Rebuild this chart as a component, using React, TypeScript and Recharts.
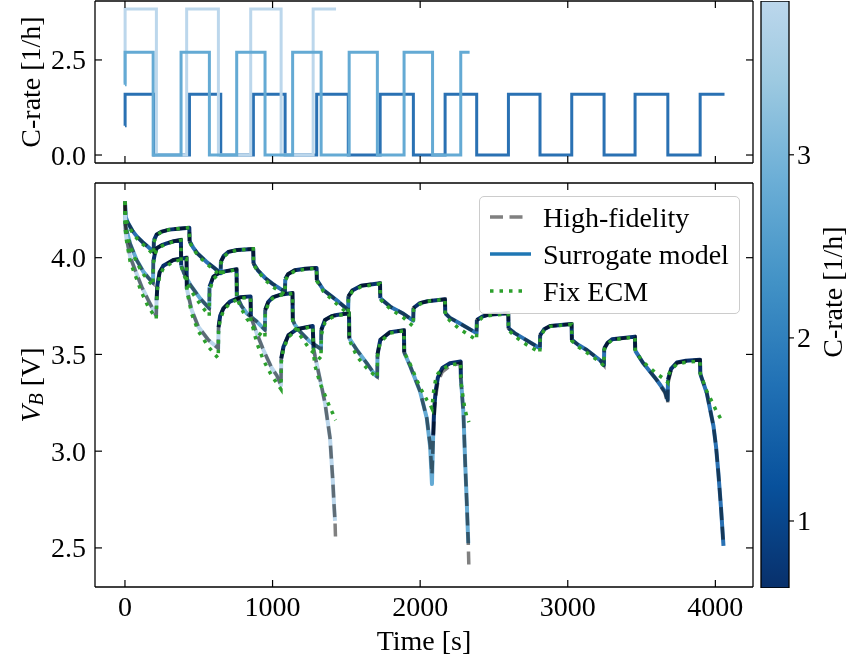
import React from 'react';
import { ComposedChart, Line, Bar, XAxis, YAxis, Legend } from 'recharts';

const FONT = '"Liberation Serif", "DejaVu Serif", serif';
const FS = 28;

const timeTicks = [0, 1000, 2000, 3000, 4000];
const rateTicks = [0, 2.5];
const voltTicks = [2.5, 3.0, 3.5, 4.0];
const cbarTicks = [1, 2, 3];
const legendLabels = ['High-fidelity', 'Surrogate model', 'Fix ECM'];

// C-rate schedules (top panel)
const darkRateT = [0, 1, 195, 437, 649, 870, 1085, 1299, 1513, 1729, 1954, 2169, 2383, 2598, 2812, 3027, 3246, 3456, 3678, 3897, 4062];
const darkRateC = [0.77, 1.6, 0, 1.6, 0, 1.6, 0, 1.6, 0, 1.6, 0, 1.6, 0, 1.6, 0, 1.6, 0, 1.6, 0, 1.6, 1.6];
const medRateT = [0, 1, 191, 380, 572, 757, 949, 1136, 1329, 1519, 1710, 1891, 2084, 2275, 2335];
const medRateC = [1.85, 2.7, 0, 2.7, 0, 2.7, 0, 2.7, 0, 2.7, 0, 2.7, 0, 2.7, 2.7];
const lightRateT = [0, 1, 213, 418, 633, 852, 1058, 1275, 1430];
const lightRateC = [1.9, 3.84, 0, 3.84, 0, 3.84, 0, 3.84, 3.84];

// colorbar range
const cbarRange = [0.634, 3.84];

// Voltage, 1.6C profile
const darkT = [0, 5, 20, 50, 80, 120, 150, 194, 196, 215, 250, 300, 360, 436, 438, 460, 490, 550, 600, 648, 650, 670, 700, 760, 869, 871, 900, 950, 1000, 1050, 1084, 1086, 1105, 1150, 1220, 1298, 1300, 1345, 1400, 1450, 1512, 1514, 1540, 1600, 1728, 1730, 1797, 1887, 1953, 1955, 1998, 2050, 2168, 2170, 2200, 2270, 2382, 2384, 2420, 2460, 2597, 2599, 2640, 2700, 2811, 2813, 2840, 2881, 3026, 3028, 3070, 3129, 3219, 3245, 3247, 3270, 3300, 3455, 3457, 3512, 3603, 3659, 3677, 3679, 3700, 3739, 3800, 3896, 3898, 3942, 3987, 4005, 4020, 4038, 4055];
const darkHF = [4.29, 4.21, 4.18, 4.14, 4.11, 4.08, 4.06, 4.03, 4.09, 4.12, 4.135, 4.145, 4.15, 4.155, 4.085, 4.055, 4.023, 3.98, 3.95, 3.92, 3.98, 4.01, 4.03, 4.04, 4.045, 3.97, 3.935, 3.895, 3.865, 3.84, 3.824, 3.89, 3.915, 3.935, 3.943, 3.947, 3.885, 3.833, 3.8, 3.77, 3.73, 3.8, 3.83, 3.855, 3.868, 3.79, 3.747, 3.71, 3.675, 3.74, 3.765, 3.775, 3.785, 3.713, 3.69, 3.66, 3.61, 3.678, 3.695, 3.705, 3.713, 3.635, 3.61, 3.583, 3.532, 3.6, 3.63, 3.647, 3.657, 3.575, 3.55, 3.523, 3.47, 3.445, 3.53, 3.56, 3.578, 3.59, 3.52, 3.454, 3.368, 3.3, 3.245, 3.35, 3.42, 3.455, 3.465, 3.471, 3.4, 3.3, 3.13, 3.02, 2.89, 2.71, 2.51];
const darkSur = [4.29, 4.21, 4.18, 4.14, 4.11, 4.08, 4.06, 4.03, 4.09, 4.12, 4.135, 4.145, 4.15, 4.155, 4.085, 4.055, 4.023, 3.98, 3.95, 3.92, 3.98, 4.01, 4.03, 4.04, 4.045, 3.97, 3.935, 3.895, 3.865, 3.84, 3.824, 3.89, 3.915, 3.935, 3.943, 3.947, 3.885, 3.833, 3.8, 3.77, 3.73, 3.8, 3.83, 3.855, 3.868, 3.79, 3.747, 3.71, 3.675, 3.74, 3.765, 3.775, 3.785, 3.713, 3.69, 3.66, 3.61, 3.678, 3.695, 3.705, 3.713, 3.635, 3.61, 3.583, 3.532, 3.6, 3.63, 3.647, 3.657, 3.575, 3.55, 3.523, 3.47, 3.445, 3.53, 3.56, 3.578, 3.592, 3.52, 3.454, 3.368, 3.308, 3.265, 3.37, 3.425, 3.458, 3.467, 3.473, 3.4, 3.3, 3.13, 3.02, 2.89, 2.71, 2.51];
const darkECM = [4.29, 4.2, 4.17, 4.13, 4.1, 4.07, 4.05, 4.015, 4.08, 4.115, 4.135, 4.145, 4.15, 4.155, 4.08, 4.05, 4.015, 3.97, 3.94, 3.905, 3.97, 4.005, 4.025, 4.04, 4.045, 3.965, 3.93, 3.885, 3.85, 3.825, 3.81, 3.88, 3.91, 3.93, 3.94, 3.945, 3.88, 3.825, 3.785, 3.75, 3.71, 3.79, 3.825, 3.85, 3.865, 3.785, 3.735, 3.69, 3.645, 3.73, 3.76, 3.775, 3.785, 3.705, 3.675, 3.63, 3.575, 3.665, 3.69, 3.7, 3.71, 3.625, 3.595, 3.56, 3.51, 3.59, 3.625, 3.645, 3.655, 3.57, 3.54, 3.51, 3.46, 3.44, 3.525, 3.555, 3.575, 3.59, 3.515, 3.46, 3.4, 3.37, 3.355, 3.39, 3.42, 3.45, 3.46, 3.465, 3.4, 3.31, 3.24, 3.21, 3.19, 3.165, 3.145];

// Voltage, 2.7C profile
const medT = [0, 3, 15, 34, 79, 124, 160, 190, 192, 205, 215, 250, 283, 330, 379, 381, 400, 442, 509, 571, 573, 599, 630, 667, 756, 758, 790, 825, 893, 948, 950, 970, 1000, 1060, 1135, 1137, 1150, 1186, 1253, 1328, 1330, 1355, 1400, 1434, 1518, 1520, 1571, 1639, 1694, 1709, 1711, 1730, 1796, 1890, 1892, 1932, 1999, 2045, 2068, 2080, 2088, 2095, 2105, 2120, 2150, 2202, 2274, 2276, 2293, 2305, 2316, 2326, 2330];
const medHF = [4.29, 4.17, 4.13, 4.074, 3.988, 3.928, 3.895, 3.87, 3.98, 4.03, 4.049, 4.065, 4.074, 4.085, 4.092, 3.96, 3.92, 3.86, 3.79, 3.738, 3.85, 3.902, 3.918, 3.928, 3.94, 3.8, 3.75, 3.713, 3.67, 3.627, 3.73, 3.77, 3.795, 3.81, 3.817, 3.678, 3.655, 3.618, 3.566, 3.528, 3.626, 3.678, 3.698, 3.704, 3.713, 3.583, 3.523, 3.454, 3.394, 3.385, 3.5, 3.575, 3.615, 3.625, 3.51, 3.44, 3.31, 3.17, 3.03, 2.88, 3.05, 3.18, 3.28, 3.36, 3.41, 3.44, 3.455, 3.37, 3.196, 2.937, 2.73, 2.524, 2.4];
const medSur = [4.29, 4.17, 4.13, 4.074, 3.988, 3.928, 3.895, 3.87, 3.98, 4.03, 4.049, 4.065, 4.074, 4.085, 4.092, 3.96, 3.92, 3.86, 3.79, 3.738, 3.85, 3.902, 3.918, 3.928, 3.94, 3.8, 3.75, 3.713, 3.67, 3.627, 3.73, 3.77, 3.795, 3.81, 3.817, 3.678, 3.655, 3.618, 3.566, 3.528, 3.626, 3.678, 3.698, 3.704, 3.713, 3.583, 3.523, 3.454, 3.394, 3.385, 3.5, 3.575, 3.615, 3.625, 3.51, 3.44, 3.31, 3.17, 3.02, 2.83, 3.08, 3.22, 3.31, 3.38, 3.43, 3.454, 3.463, 3.375, 3.2, 2.94, 2.73, 2.524, null];
const medECM = [4.29, 4.16, 4.12, 4.06, 3.975, 3.915, 3.88, 3.855, 3.97, 4.02, 4.04, 4.06, 4.072, 4.083, 4.09, 3.955, 3.91, 3.835, 3.76, 3.7, 3.83, 3.89, 3.912, 3.925, 3.938, 3.79, 3.735, 3.685, 3.618, 3.585, 3.71, 3.76, 3.79, 3.808, 3.815, 3.67, 3.64, 3.6, 3.525, 3.475, 3.6, 3.665, 3.69, 3.7, 3.71, 3.575, 3.49, 3.428, 3.39, 3.38, 3.49, 3.565, 3.61, 3.622, 3.51, 3.45, 3.33, 3.265, 3.24, 3.22, 3.29, 3.33, 3.37, 3.4, 3.425, 3.445, 3.455, 3.36, 3.265, 3.21, 3.18, 3.16, 3.15];

// Voltage, 3.84C profile
const lightT = [0, 3, 8, 35, 69, 113, 158, 212, 214, 220, 235, 260, 328, 417, 419, 452, 497, 565, 632, 634, 645, 667, 711, 780, 851, 853, 893, 938, 994, 1030, 1057, 1059, 1074, 1108, 1163, 1272, 1278, 1288, 1322, 1355, 1389, 1408, 1416, 1423, 1427];
const lightHF = [4.29, 4.15, 4.11, 4.005, 3.936, 3.85, 3.78, 3.7, 3.78, 3.86, 3.925, 3.958, 3.988, 4.0, 3.84, 3.73, 3.643, 3.575, 3.532, 3.64, 3.7, 3.738, 3.773, 3.795, 3.8, 3.695, 3.609, 3.523, 3.43, 3.39, 3.34, 3.48, 3.54, 3.6, 3.63, 3.647, 3.53, 3.49, 3.37, 3.25, 3.07, 2.85, 2.73, 2.64, 2.54];
const lightSur = [4.29, 4.15, 4.11, 4.005, 3.936, 3.85, 3.78, 3.7, 3.78, 3.86, 3.925, 3.958, 3.988, 4.0, 3.84, 3.73, 3.643, 3.575, 3.532, 3.64, 3.7, 3.738, 3.773, 3.795, 3.8, 3.695, 3.609, 3.523, 3.43, 3.39, 3.34, 3.48, 3.54, 3.6, 3.63, 3.647, 3.53, 3.49, 3.37, 3.25, 3.07, 2.85, 2.73, 2.64, null];
const lightECM = [4.29, 4.14, 4.1, 3.98, 3.91, 3.82, 3.745, 3.685, 3.76, 3.84, 3.905, 3.945, 3.98, 3.995, 3.83, 3.71, 3.62, 3.54, 3.48, 3.62, 3.68, 3.725, 3.765, 3.79, 3.795, 3.68, 3.56, 3.47, 3.39, 3.35, 3.32, 3.46, 3.53, 3.59, 3.625, 3.645, 3.5, 3.44, 3.35, 3.29, 3.225, 3.195, 3.18, 3.165, 3.16];

const NAVY = '#08306b';
const DARK = '#2a71b3';
const MED = '#64aad4';
const LIGHT = '#bcd7ec';
const HF_COLOR = '#808080';
const ECM_COLOR = '#2ca02c';

type Pt = { t: number; v: number };

function pts(T: number[], V: (number | null)[]): Pt[] {
  const out: Pt[] = [];
  T.forEach((t, i) => {
    const v = V[i];
    if (v !== null && v !== undefined) out.push({ t, v });
  });
  return out;
}

function rateAt(rt: number[], rc: number[], t: number) {
  let c = rc[0];
  for (let i = 0; i < rt.length; i++) if (rt[i] <= t) c = rc[i];
  return c;
}

// split a surrogate curve into runs coloured by the C-rate at each point (rest -> darkest colour)
function segments(T: number[], V: (number | null)[], rt: number[], rc: number[], color: string) {
  const p = pts(T, V);
  const segs: { color: string; data: Pt[] }[] = [];
  let cur: { color: string; data: Pt[] } | null = null;
  p.forEach((q) => {
    const col = rateAt(rt, rc, q.t) > 0 ? color : NAVY;
    if (!cur) {
      cur = { color: col, data: [q] };
      segs.push(cur);
    } else if (cur.color !== col) {
      cur.data.push(q);
      cur = { color: col, data: [q] };
      segs.push(cur);
    } else {
      cur.data.push(q);
    }
  });
  return segs;
}

const rateData = (rt: number[], rc: number[]) => rt.map((t, i) => ({ t, c: rc[i] }));

const TL = 7;
const txt = { fontFamily: FONT, fontSize: FS, fill: '#000' } as const;

const leftTick = (fmt?: (v: number) => string) => (props: any) => {
  const { x, y, payload } = props;
  return (
    <g>
      <line x1={x} x2={x + TL} y1={y} y2={y} stroke="#000" strokeWidth={1.2} />
      {fmt && (
        <text x={x - 9} y={y} textAnchor="end" dominantBaseline="central" {...txt}>
          {fmt(payload.value)}
        </text>
      )}
    </g>
  );
};
const rightTick = () => (props: any) => {
  const { x, y } = props;
  return <line x1={x - TL} x2={x} y1={y} y2={y} stroke="#000" strokeWidth={1.2} />;
};
const bottomTick = (fmt?: (v: number) => string) => (props: any) => {
  const { x, y, payload } = props;
  return (
    <g>
      <line x1={x} x2={x} y1={y - TL} y2={y} stroke="#000" strokeWidth={1.2} />
      {fmt && (
        <text x={x} y={y + 19} textAnchor="middle" dominantBaseline="central" {...txt}>
          {fmt(payload.value)}
        </text>
      )}
    </g>
  );
};
const topTick = () => (props: any) => {
  const { x, y } = props;
  return <line x1={x} x2={x} y1={y} y2={y + TL} stroke="#000" strokeWidth={1.2} />;
};
const cbarTick = (props: any) => {
  const { x, y, payload } = props;
  return (
    <g>
      <line x1={x} x2={x + 5} y1={y} y2={y} stroke="#000" strokeWidth={1.2} />
      <text x={x + 8} y={y} textAnchor="start" dominantBaseline="central" {...txt}>
        {String(payload.value)}
      </text>
    </g>
  );
};

const X_DOMAIN: [number, number] = [-203, 4255];
const AX = { stroke: '#000', strokeWidth: 1.3 };

const renderLegend = () => (
  <div
    style={{
      width: 261,
      height: 118,
      boxSizing: 'border-box',
      border: '1.2px solid #cccccc',
      borderRadius: 5,
      background: 'rgba(255,255,255,0.85)',
      position: 'relative',
    }}
  >
    <svg width={261} height={118} style={{ position: 'absolute', left: -1, top: -1 }}>
      {legendLabels.map((lab, i) => {
        const y = 21 + i * 37;
        const dash = i === 0 ? '13 6.5' : i === 2 ? '3.5 6' : undefined;
        const col = i === 0 ? HF_COLOR : i === 1 ? '#1f77b4' : ECM_COLOR;
        return (
          <g key={lab}>
            <line x1={11} x2={i === 1 ? 52 : 47} y1={y} y2={y} stroke={col} strokeWidth={3.5} strokeDasharray={dash} />
            <text x={64} y={y} dominantBaseline="central" {...txt}>
              {lab}
            </text>
          </g>
        );
      })}
    </svg>
  </div>
);

const curves = [
  { T: darkT, hf: darkHF, sur: darkSur, ecm: darkECM, rt: darkRateT, rc: darkRateC, color: DARK },
  { T: medT, hf: medHF, sur: medSur, ecm: medECM, rt: medRateT, rc: medRateC, color: MED },
  { T: lightT, hf: lightHF, sur: lightSur, ecm: lightECM, rt: lightRateT, rc: lightRateC, color: LIGHT },
];

const cbarData = [{ name: 'cb', range: cbarRange }];

export default function App() {
  const surSegs = curves.flatMap((c) => segments(c.T, c.sur, c.rt, c.rc, c.color));
  const common = { dot: false, activeDot: false, isAnimationActive: false, type: 'linear' as const, legendType: 'none' as const };
  return (
    <div style={{ position: 'absolute', left: 0, top: 0, width: 850, height: 666, background: '#fff', overflow: 'hidden' }}>
      <style>{`.hf-line { mix-blend-mode: multiply; }`}</style>
      {/* top panel: plot area x 95-753, y 1-163 */}
      <div style={{ position: 'absolute', left: 0, top: 0 }}>
        <ComposedChart width={850} height={666} margin={{ top: 0, left: 94, right: 96, bottom: 502 }}>
          <XAxis xAxisId="b" type="number" dataKey="t" domain={X_DOMAIN} allowDataOverflow ticks={timeTicks} interval={0} height={1} tickSize={0} tickMargin={0} tickLine={false} tick={bottomTick()} axisLine={AX} />
          <XAxis xAxisId="t" orientation="top" type="number" dataKey="t" domain={X_DOMAIN} allowDataOverflow ticks={timeTicks} interval={0} height={1} tickSize={0} tickMargin={0} tickLine={false} tick={topTick()} axisLine={AX} />
          <YAxis yAxisId="l" type="number" domain={[-0.21, 4.05]} allowDataOverflow ticks={rateTicks} interval={0} width={1} tickSize={0} tickMargin={0} tickLine={false} tick={leftTick((v) => v.toFixed(1))} axisLine={AX} />
          <YAxis yAxisId="r" orientation="right" type="number" domain={[-0.21, 4.05]} allowDataOverflow ticks={rateTicks} interval={0} width={1} tickSize={0} tickMargin={0} tickLine={false} tick={rightTick()} axisLine={AX} />
          <Line {...common} type="stepAfter" xAxisId="b" yAxisId="l" data={rateData(darkRateT, darkRateC)} dataKey="c" stroke={DARK} strokeWidth={3} />
          <Line {...common} type="stepAfter" xAxisId="b" yAxisId="l" data={rateData(lightRateT, lightRateC)} dataKey="c" stroke={LIGHT} strokeWidth={3} />
          <Line {...common} type="stepAfter" xAxisId="b" yAxisId="l" data={rateData(medRateT, medRateC)} dataKey="c" stroke={MED} strokeWidth={3} />
          <text x={30} y={82} transform="rotate(-90 30 82)" textAnchor="middle" dominantBaseline="central" {...txt}>
            C-rate [1/h]
          </text>
        </ComposedChart>
      </div>
      {/* bottom panel: plot area x 95-753, y 183-587 */}
      <div style={{ position: 'absolute', left: 0, top: 0 }}>
        <ComposedChart width={850} height={666} margin={{ top: 182, left: 94, right: 96, bottom: 78 }}>
          <XAxis xAxisId="b" type="number" dataKey="t" domain={X_DOMAIN} allowDataOverflow ticks={timeTicks} interval={0} height={1} tickSize={0} tickMargin={0} tickLine={false} tick={bottomTick((v) => String(v))} axisLine={AX} />
          <XAxis xAxisId="t" orientation="top" type="number" dataKey="t" domain={X_DOMAIN} allowDataOverflow ticks={timeTicks} interval={0} height={1} tickSize={0} tickMargin={0} tickLine={false} tick={topTick()} axisLine={AX} />
          <YAxis yAxisId="l" type="number" domain={[2.298, 4.386]} allowDataOverflow ticks={voltTicks} interval={0} width={1} tickSize={0} tickMargin={0} tickLine={false} tick={leftTick((v) => v.toFixed(1))} axisLine={AX} />
          <YAxis yAxisId="r" orientation="right" type="number" domain={[2.298, 4.386]} allowDataOverflow ticks={voltTicks} interval={0} width={1} tickSize={0} tickMargin={0} tickLine={false} tick={rightTick()} axisLine={AX} />
          {surSegs.map((s, i) => (
            <Line key={'s' + i} {...common} xAxisId="b" yAxisId="l" data={s.data} dataKey="v" stroke={s.color} strokeWidth={4} strokeLinejoin="round" />
          ))}
          {curves.map((c, i) => (
            <Line key={'h' + i} {...common} className="hf-line" xAxisId="b" yAxisId="l" data={pts(c.T, c.hf)} dataKey="v" stroke={HF_COLOR} strokeWidth={3.5} strokeDasharray="13 6.5" />
          ))}
          {curves.map((c, i) => (
            <Line key={'e' + i} {...common} xAxisId="b" yAxisId="l" data={pts(c.T, c.ecm)} dataKey="v" stroke={ECM_COLOR} strokeWidth={3.5} strokeDasharray="3.5 6" />
          ))}
          <Legend content={renderLegend} layout="vertical" align="center" verticalAlign="middle" wrapperStyle={{ left: 479, top: 196, width: 261, height: 118 }} />
          <text x={30} y={385} transform="rotate(-90 30 385)" textAnchor="middle" dominantBaseline="central" {...txt}>
            <tspan fontStyle="italic">V</tspan>
            <tspan fontStyle="italic" fontSize={20} dy={6}>B</tspan>
            <tspan dy={-6}> [V]</tspan>
          </text>
          <text x={424} y={640} textAnchor="middle" dominantBaseline="central" {...txt}>
            Time [s]
          </text>
        </ComposedChart>
      </div>
      {/* colorbar: x 761-789, y 1-588 */}
      <div style={{ position: 'absolute', left: 0, top: 0 }}>
        <ComposedChart width={850} height={666} data={cbarData} barCategoryGap={0} margin={{ top: 1, left: 761, right: 60, bottom: 78 }}>
          <defs>
            <linearGradient id="cbg" x1="0" y1="0" x2="0" y2="1">
              <stop offset="0" stopColor="#bcd7ec" />
              <stop offset="0.132" stopColor="#9ecae1" />
              <stop offset="0.306" stopColor="#6baed6" />
              <stop offset="0.479" stopColor="#4292c6" />
              <stop offset="0.653" stopColor="#2171b5" />
              <stop offset="0.826" stopColor="#08519c" />
              <stop offset="1" stopColor="#08306b" />
            </linearGradient>
          </defs>
          <XAxis xAxisId="cx" dataKey="name" type="category" hide />
          <YAxis yAxisId="cy" orientation="right" type="number" domain={cbarRange} allowDataOverflow ticks={cbarTicks} interval={0} width={1} tickSize={0} tickMargin={0} tickLine={false} tick={cbarTick} axisLine={false} />
          <Bar xAxisId="cx" yAxisId="cy" dataKey="range" fill="url(#cbg)" stroke="#000" strokeWidth={1.3} isAnimationActive={false} legendType="none" />
          <text x={832} y={292} transform="rotate(-90 832 292)" textAnchor="middle" dominantBaseline="central" {...txt}>
            C-rate [1/h]
          </text>
        </ComposedChart>
      </div>
    </div>
  );
}
